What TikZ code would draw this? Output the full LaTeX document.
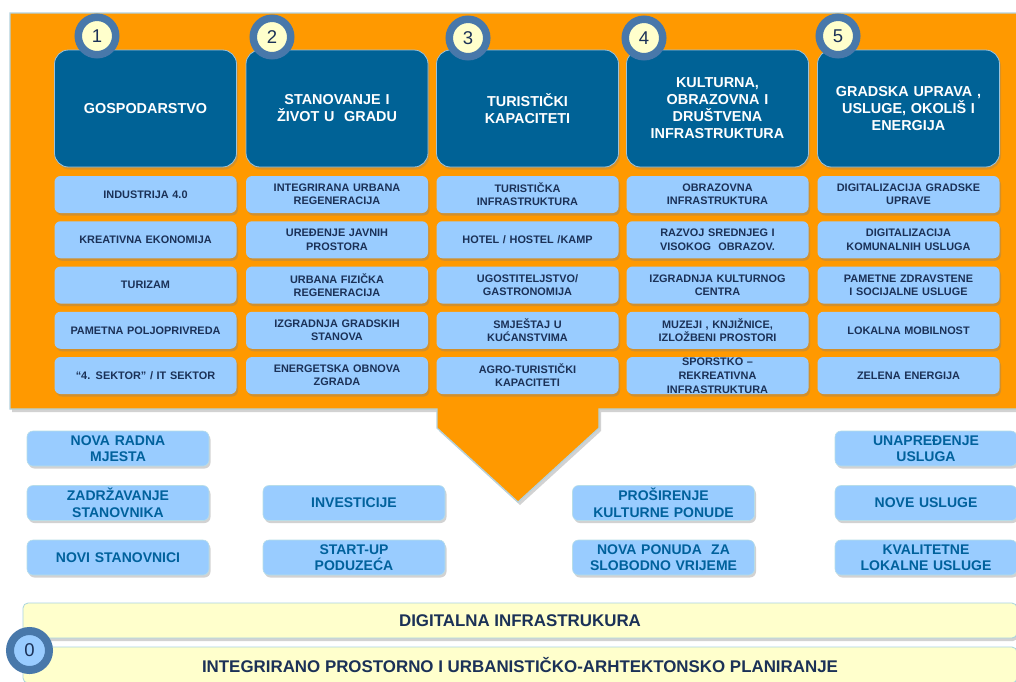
\documentclass[tikz,border=0pt]{standalone}
\usepackage{fontspec}
\setmainfont{Liberation Sans}
\usetikzlibrary{shadows}
\definecolor{panelorange}{HTML}{FF9900}
\definecolor{panelrim}{HTML}{B3D2DE}
\definecolor{hdrblue}{HTML}{006296}
\definecolor{hdrrim}{HTML}{9CC2DA}
\definecolor{subblue}{HTML}{99CCFF}
\definecolor{subtxt}{HTML}{1B3157}
\definecolor{lowtxt}{HTML}{00619C}
\definecolor{lowrim}{HTML}{B7DDE8}
\definecolor{ringblue}{HTML}{4878AA}
\definecolor{badgeyellow}{HTML}{FFFFCC}
\definecolor{barfill}{HTML}{FFFFCC}
\definecolor{barrim}{HTML}{A8D4E0}
\begin{document}
\begin{tikzpicture}[x=1pt,y=-1pt,
  hdrbox/.style={rectangle, rounded corners=14pt, fill=hdrblue, draw=hdrrim, line width=0.8pt,
    minimum width=182pt, minimum height=117pt, text width=174pt, align=center, inner sep=0pt,
    font=\fontsize{14.4}{17}\selectfont\bfseries, text=white,
    drop shadow={opacity=0.3, shadow xshift=1.5pt, shadow yshift=-2.5pt}},
  subbox/.style={rectangle, rounded corners=6pt, fill=subblue, draw=none,
    minimum width=182pt, minimum height=37pt, text width=178pt, align=center, inner sep=0pt,
    font=\fontsize{10.9}{13.2}\selectfont\bfseries, text=subtxt,
    drop shadow={opacity=0.35, shadow xshift=1.5pt, shadow yshift=-2.5pt}},
  lowbox/.style={rectangle, rounded corners=6pt, fill=subblue, draw=lowrim, line width=0.6pt,
    minimum width=182pt, minimum height=35pt, text width=178pt, align=center, inner sep=0pt,
    font=\fontsize{14}{16.5}\selectfont\bfseries, text=lowtxt,
    drop shadow={opacity=0.35, shadow xshift=1.5pt, shadow yshift=-2.5pt}},
  badge/.style={circle, fill=badgeyellow, draw=ringblue, line width=7.5pt, minimum size=37.5pt,
    inner sep=0pt, font=\fontsize{18.5}{20}\selectfont, text=subtxt,
    drop shadow={opacity=0.3, shadow xshift=1pt, shadow yshift=-2pt}},
  barbox/.style={rectangle, rounded corners=5pt, fill=barfill, draw=barrim, line width=0.8pt,
    minimum width=994pt, minimum height=35pt, inner sep=0pt,
    font=\fontsize{16.9}{18}\selectfont\bfseries, text=subtxt},
]
\useasboundingbox (0,0) rectangle (1016,681);
\fill[white] (0,0) rectangle (1016,681);

% orange panel with arrow
\draw[fill=panelorange, draw=panelrim, line width=1.2pt,
  drop shadow={opacity=0.35, shadow xshift=2pt, shadow yshift=-3pt}]
  (10,13) -- (1020,13) -- (1020,409) -- (599,409) -- (599,428) -- (518,502)
  -- (437,428) -- (437,409) -- (10,409) -- cycle;

% headers
\node[hdrbox] (h1) at (145.5,108.5) {GOSPODARSTVO};
\node[hdrbox] (h2) at (337,108.5) {\raisebox{8pt}{\parbox{174pt}{\centering STANOVANJE I\\ ŽIVOT U \ GRADU}}};
\node[hdrbox] (h3) at (527.5,108.5) {TURISTIČKI\\ KAPACITETI};
\node[hdrbox] (h4) at (717.5,108.5) {KULTURNA,\\ OBRAZOVNA I\\ DRUŠTVENA\\ INFRASTRUKTURA};
\node[hdrbox] (h5) at (908.5,108.5) {GRADSKA UPRAVA ,\\ USLUGE, OKOLIŠ I\\ ENERGIJA};

% badges
\node[badge] (c1) at (97,36) {1};
\node[badge] (c2) at (272,37) {2};
\node[badge] (c3) at (468,38) {3};
\node[badge] (c4) at (644,38) {4};
\node[badge] (c5) at (838,36) {5};

% column 1
\node[subbox] (s11) at (145.5,194.5) {INDUSTRIJA 4.0};
\node[subbox] (s12) at (145.5,239.75) {KREATIVNA EKONOMIJA};
\node[subbox] (s13) at (145.5,285) {TURIZAM};
\node[subbox] (s14) at (145.5,330.25) {PAMETNA POLJOPRIVREDA};
\node[subbox] (s15) at (145.5,375.5) {“4. SEKTOR” / IT SEKTOR};
% column 2
\node[subbox] (s21) at (337,194.5) {INTEGRIRANA URBANA\\ REGENERACIJA};
\node[subbox] (s22) at (337,239.75) {UREĐENJE JAVNIH\\ PROSTORA};
\node[subbox] (s23) at (337,285) {URBANA FIZIČKA\\ REGENERACIJA};
\node[subbox] (s24) at (337,330.25) {IZGRADNJA GRADSKIH\\ STANOVA};
\node[subbox] (s25) at (337,375.5) {ENERGETSKA OBNOVA\\ ZGRADA};
% column 3
\node[subbox] (s31) at (527.5,194.5) {TURISTIČKA\\ INFRASTRUKTURA};
\node[subbox] (s32) at (527.5,239.75) {HOTEL / HOSTEL /KAMP};
\node[subbox] (s33) at (527.5,285) {UGOSTITELJSTVO/\\ GASTRONOMIJA};
\node[subbox] (s34) at (527.5,330.25) {SMJEŠTAJ U\\ KUĆANSTVIMA};
\node[subbox] (s35) at (527.5,375.5) {AGRO-TURISTIČKI\\ KAPACITETI};
% column 4
\node[subbox] (s41) at (717.5,194.5) {OBRAZOVNA\\ INFRASTRUKTURA};
\node[subbox] (s42) at (717.5,239.75) {RAZVOJ SREDNJEG I\\ VISOKOG \ OBRAZOV.};
\node[subbox] (s43) at (717.5,285) {IZGRADNJA KULTURNOG\\ CENTRA};
\node[subbox] (s44) at (717.5,330.25) {MUZEJI , KNJIŽNICE,\\ IZLOŽBENI PROSTORI};
\node[subbox, font=\fontsize{10.9}{14}\selectfont\bfseries] (s45) at (717.5,375.5) {SPORSTKO –\\ REKREATIVNA\\ INFRASTRUKTURA};
% column 5
\node[subbox] (s51) at (908.5,194.5) {DIGITALIZACIJA GRADSKE\\ UPRAVE};
\node[subbox] (s52) at (908.5,239.75) {DIGITALIZACIJA\\ KOMUNALNIH USLUGA};
\node[subbox] (s53) at (908.5,285) {PAMETNE ZDRAVSTENE\\ I SOCIJALNE USLUGE};
\node[subbox] (s54) at (908.5,330.25) {LOKALNA MOBILNOST};
\node[subbox] (s55) at (908.5,375.5) {ZELENA ENERGIJA};

% outcome boxes
\node[lowbox] (o1) at (118,448.5) {NOVA RADNA\\ MJESTA};
\node[lowbox] (o2) at (118,503) {ZADRŽAVANJE\\ STANOVNIKA};
\node[lowbox] (o3) at (118,557.5) {NOVI STANOVNICI};
\node[lowbox] (o4) at (354,503) {INVESTICIJE};
\node[lowbox] (o5) at (354,557.5) {START-UP\\ PODUZEĆA};
\node[lowbox] (o6) at (663.5,503) {PROŠIRENJE\\ KULTURNE PONUDE};
\node[lowbox] (o7) at (663.5,557.5) {NOVA PONUDA \ ZA\\ SLOBODNO VRIJEME};
\node[lowbox] (o8) at (926,448.5) {UNAPREĐENJE\\ USLUGA};
\node[lowbox] (o9) at (926,503) {NOVE USLUGE};
\node[lowbox] (o10) at (926,557.5) {KVALITETNE\\ LOKALNE USLUGE};

% foundation bars
\node[barbox, minimum height=35pt,
  drop shadow={opacity=0.35, shadow xshift=1pt, shadow yshift=-3pt}] (d1) at (520,620.5) {DIGITALNA INFRASTRUKURA};
\node[barbox, minimum height=36pt] (d2) at (520,665) {INTEGRIRANO PROSTORNO I URBANISTIČKO-ARHTEKTONSKO PLANIRANJE};
\node[badge, fill=subblue, minimum size=39pt, line width=8pt] (c0) at (29.5,650.5) {0};
\end{tikzpicture}
\end{document}
